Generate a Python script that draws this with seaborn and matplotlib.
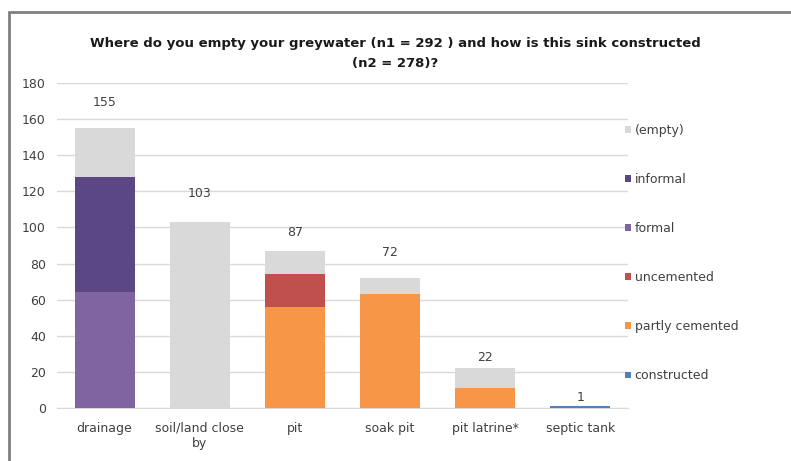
import numpy as np
import pandas as pd
import matplotlib
matplotlib.use("Agg")
import matplotlib.pyplot as plt
from matplotlib.patches import Rectangle, Patch
import seaborn as sns

# Sink locations and how each is constructed
categories = ["drainage", "soil/land close\nby", "pit", "soak pit", "pit latrine*", "septic tank"]
constructed = [0, 0, 0, 0, 0, 1]
partly_cemented = [0, 0, 56, 63, 11, 0]
uncemented = [0, 0, 18, 0, 0, 0]
formal = [64, 0, 0, 0, 0, 0]
informal = [64, 0, 0, 0, 0, 0]
empty = [27, 103, 13, 9, 11, 0]
totals = [155, 103, 87, 72, 22, 1]

# stacking order, bottom to top
layers = [
    ("constructed", constructed, "#4F81BD"),
    ("partly cemented", partly_cemented, "#F79646"),
    ("uncemented", uncemented, "#C0504D"),
    ("formal", formal, "#8064A2"),
    ("informal", informal, "#5C4785"),
    ("(empty)", empty, "#D9D9D9"),
]
# vertical lift of each total label above its bar (data units)
label_lift = [14, 16, 10, 14, 6, 5]

sns.set_style("white")
plt.rcParams["font.family"] = ["DejaVu Sans"]

fig = plt.figure(figsize=(7.91, 4.61), dpi=100)
ax = fig.add_axes([57 / 791, 1 - 408 / 461, 571 / 791, 325 / 461])

# cumulative heights; draw tallest first so lower segments sit on top
cum = np.cumsum(np.array([l[1] for l in layers], dtype=float), axis=0)
for (name, vals, color), heights in reversed(list(zip(layers, cum))):
    df = pd.DataFrame({"place": categories, "value": heights})
    sns.barplot(data=df, x="place", y="value", order=categories, color=color,
                saturation=1, width=0.63, linewidth=0, ax=ax, zorder=3)

for i, (t, lift) in enumerate(zip(totals, label_lift)):
    ax.text(i, t + lift, str(t), ha="center", va="center", fontsize=9, color="#404040")

ax.set_ylim(0, 180)
ax.set_yticks(range(0, 181, 20))
ax.set_xlim(-0.5, len(categories) - 0.5)
ax.grid(axis="y", color="#D9D9D9", linewidth=1, zorder=0)
ax.set_axisbelow(True)
for s in ["top", "right", "left"]:
    ax.spines[s].set_visible(False)
ax.spines["bottom"].set_color("#D9D9D9")
ax.set_xlabel("")
ax.set_ylabel("")
ax.tick_params(axis="both", length=0, labelsize=9, labelcolor="#404040")
ax.tick_params(axis="y", pad=8)
ax.tick_params(axis="x", pad=10)

handles = [Patch(facecolor=c, edgecolor="none", label=n) for n, _, c in reversed(layers)]
fig.legend(handles=handles, loc="upper left", bbox_to_anchor=(614 / 791, 1 - 112.5 / 461),
           frameon=False, fontsize=9, handlelength=0.45, handleheight=0.45,
           handletextpad=0.3, labelspacing=2.89, labelcolor="#404040")

fig.text(0.5, 1 - 43 / 461, "Where do you empty your greywater (n1 = 292 ) and how is this sink constructed",
         ha="center", va="center", fontsize=9.5, fontweight="bold", color="#1a1a1a")
fig.text(0.5, 1 - 63 / 461, "(n2 = 278)?", ha="center", va="center",
         fontsize=9.5, fontweight="bold", color="#1a1a1a")

# outer chart frame (top and left edges visible)
fig.patches.append(Rectangle((9 / 791, -0.2), 1.5, 1 - 12 / 461 + 0.2, transform=fig.transFigure,
                             fill=False, edgecolor="#7F7F7F", linewidth=2))

fig.savefig("out.png", dpi=100)
